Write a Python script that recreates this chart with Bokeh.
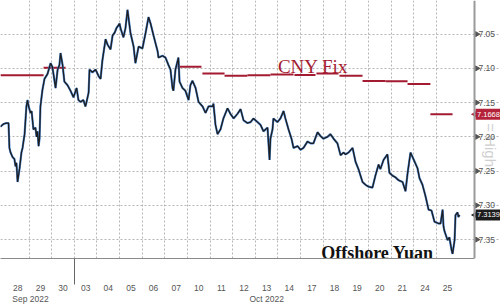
import math
from bokeh.plotting import figure
from bokeh.models import Range1d, FixedTicker, ColumnDataSource, LinearAxis, Span
from bokeh.core.properties import value
from bokeh.embed import file_html
from bokeh.resources import INLINE

# x unit = one trading session; 0 = start of 28 Sep 2022 session
day_labels = ["28", "29", "30", "03", "04", "05", "06", "07", "10", "11",
              "12", "13", "14", "17", "18", "19", "20", "21", "24", "25"]
month_labels = ["Sep 2022", "Oct 2022"]
month_label_pos = [1.06, 11.5]
month_break = [3.0]

# Offshore yuan (USD/CNH), intraday trace
cnh_x = [-0.27, -0.13, 0.00, 0.09, 0.13, 0.18, 0.27, 0.35, 0.40, 0.44, 0.49, 0.58, 0.66, 0.71, 0.80,
         0.88, 0.93, 0.97, 1.06, 1.11, 1.19, 1.28, 1.33, 1.37, 1.42, 1.46, 1.50, 1.59, 1.68, 1.81,
         1.95, 2.03, 2.17, 2.26, 2.34, 2.39, 2.48, 2.56, 2.70, 2.83, 2.96, 3.10, 3.18, 3.27, 3.40,
         3.49, 3.54, 3.63, 3.67, 3.80, 3.94, 4.07, 4.16, 4.24, 4.38, 4.47, 4.60, 4.69, 4.78, 4.86,
         5.00, 5.04, 5.17, 5.26, 5.35, 5.48, 5.62, 5.70, 5.84, 6.01, 6.15, 6.28, 6.37, 6.50, 6.68,
         6.72, 6.90, 7.03, 7.16, 7.25, 7.34, 7.38, 7.47, 7.60, 7.65, 7.78, 7.91, 8.05, 8.13, 8.22,
         8.36, 8.49, 8.67, 8.80, 8.93, 9.11, 9.15, 9.24, 9.33, 9.46, 9.59, 9.77, 9.90, 10.04, 10.21,
         10.35, 10.48, 10.65, 10.79, 10.92, 11.10, 11.23, 11.36, 11.54, 11.63, 11.67, 11.76, 11.80, 11.98, 12.11,
         12.25, 12.33, 12.47, 12.60, 12.69, 12.87, 13.00, 13.13, 13.31, 13.44, 13.57, 13.75, 13.88, 14.01, 14.19,
         14.32, 14.46, 14.63, 14.77, 14.90, 14.99, 15.12, 15.30, 15.43, 15.56, 15.74, 15.87, 16.00, 16.18, 16.31,
         16.45, 16.53, 16.67, 16.84, 16.93, 17.06, 17.20, 17.33, 17.51, 17.64, 17.73, 17.86, 17.99, 18.17, 18.26,
         18.39, 18.52, 18.66, 18.79, 18.92, 19.10, 19.19, 19.28, 19.32, 19.36, 19.50, 19.58, 19.67, 19.72, 19.81,
         19.85, 19.94, 19.98, 20.03]
cnh_y = [7.1852, 7.1812, 7.1798, 7.1798, 7.2161, 7.2229, 7.2296, 7.2323, 7.2430, 7.2377, 7.2659, 7.2457, 7.2229, 7.2161, 7.1960,
         7.1556, 7.1462, 7.1543, 7.1650, 7.1623, 7.1892, 7.1865, 7.2000, 7.1919, 7.2135, 7.2027, 7.1556, 7.1314, 7.1153, 7.1085,
         7.0924, 7.0978, 7.1287, 7.1018, 7.0951, 7.0776, 7.0951, 7.1193, 7.1247, 7.1327, 7.1422, 7.1287, 7.1462, 7.1489, 7.1462,
         7.1556, 7.1489, 7.1354, 7.1018, 7.1058, 7.1018, 7.1112, 7.1153, 7.0883, 7.0574, 7.0655, 7.0722, 7.0520, 7.0480, 7.0413,
         7.0345, 7.0413, 7.0547, 7.0413, 7.0144, 7.0480, 7.0682, 7.0924, 7.0682, 7.0709, 7.0480, 7.0251, 7.0345, 7.0520, 7.0749,
         7.0843, 7.0816, 7.0843, 7.0951, 7.1018, 7.1287, 7.1327, 7.1018, 7.0843, 7.1193, 7.1287, 7.1327, 7.1462, 7.1247, 7.1179,
         7.1287, 7.1489, 7.1556, 7.1650, 7.1556, 7.1556, 7.1516, 7.1825, 7.1960, 7.1892, 7.1731, 7.1583, 7.1664, 7.1731, 7.1664,
         7.1596, 7.1758, 7.1798, 7.1785, 7.1731, 7.1785, 7.1825, 7.1919, 7.1865, 7.2336, 7.2027, 7.1892, 7.1731, 7.1785, 7.1731,
         7.1623, 7.1731, 7.1892, 7.2027, 7.2161, 7.2135, 7.2188, 7.2161, 7.2067, 7.2094, 7.2094, 7.1933, 7.1987, 7.2027, 7.2000,
         7.1960, 7.2027, 7.2094, 7.2269, 7.2229, 7.2256, 7.2229, 7.2161, 7.2363, 7.2471, 7.2659, 7.2700, 7.2727, 7.2740, 7.2565,
         7.2404, 7.2471, 7.2336, 7.2256, 7.2525, 7.2565, 7.2592, 7.2632, 7.2659, 7.2794, 7.2538, 7.2229, 7.2323, 7.2457, 7.2605,
         7.2700, 7.2861, 7.3063, 7.3076, 7.3238, 7.3265, 7.3265, 7.3063, 7.3305, 7.3372, 7.3507, 7.3466, 7.3641, 7.3709, 7.3507,
         7.3143, 7.3103, 7.3170, 7.3139]

# CNY fixing segments
fix_start = [-0.27, 1.64, 7.56, 8.66, 9.64, 10.65, 11.67, 12.73, 13.70, 14.72, 15.74, 16.76, 17.73, 18.74]
fix_end = [1.64, 2.61, 8.62, 9.64, 10.65, 11.67, 12.69, 13.66, 14.68, 15.74, 16.76, 17.73, 18.74, 19.72]
fix_val = [7.1099, 7.0991, 7.0978, 7.1076, 7.1108, 7.1099, 7.1089, 7.1095, 7.1076, 7.1108, 7.1186, 7.1189, 7.1229, 7.1668]

y_ticks = [7.05, 7.10, 7.15, 7.20, 7.25, 7.30, 7.35]
last_fix = 7.1668
last_cnh = 7.3139
watermark = "= High"
watermark_at = 7.2120

RED = "#a31b30"
TAG_RED = "#b4213a"
TAG_DARK = "#1c1c1c"
sans = "'Liberation Sans Narrow', 'Liberation Sans', Arial, sans-serif"

# the data area ends at x_hi; the strip to its right holds the value scale and tags
x_lo, x_hi = -0.265, 20.69
px_x = (x_hi - x_lo) / 474.0
x_end = x_lo + 500 * px_x
y_top = 7.0009
px_y = 0.0013453
frame_h = 280
y_bot = y_top + frame_h * px_y

p = figure(width=500, height=306, x_range=Range1d(x_lo, x_end), y_range=Range1d(y_bot, y_top),
           output_backend="svg", toolbar_location=None, y_axis_location="right",
           min_border_left=0, min_border_top=0, min_border_right=0, min_border_bottom=306 - frame_h)
p.outline_line_color = None
p.background_fill_color = "white"
p.border_fill_color = "white"

centers = [i + 0.5 for i in range(len(day_labels))]
bounds = [i + 1 for i in range(len(day_labels) - 1)]

xa = p.xaxis[0]
xa.ticker = FixedTicker(ticks=centers, minor_ticks=month_break)
xa.major_label_overrides = {c: l for c, l in zip(centers, day_labels)}
xa.bounds = (x_lo, x_hi)
xa.major_tick_out = 0
xa.major_tick_in = 0
xa.minor_tick_out = 26
xa.minor_tick_in = 0
xa.minor_tick_line_color = "#666666"
xa.minor_tick_line_width = 1
xa.major_label_standoff = 0
xa.major_label_text_font = sans
xa.major_label_text_font_size = "8.5px"
xa.major_label_text_color = "#555555"
xa.axis_line_color = "#8a8a8a"
xa.axis_line_width = 1

month_axis = LinearAxis(ticker=FixedTicker(ticks=month_label_pos),
                        major_label_overrides={pos: lbl for pos, lbl in zip(month_label_pos, month_labels)},
                        axis_line_color=None, major_tick_line_color=None, minor_tick_line_color=None,
                        major_tick_out=0, major_tick_in=0, minor_tick_out=0, minor_tick_in=0,
                        major_label_standoff=0, major_label_text_font=sans,
                        major_label_text_font_size="8.5px", major_label_text_color="#555555")
p.add_layout(month_axis, "below")

# value scale: labels pulled back into the strip right of the data area
ya = p.yaxis[0]
ya.ticker = FixedTicker(ticks=y_ticks)
ya.major_label_overrides = {t: f"{t:.2f}" for t in y_ticks}
ya.major_tick_line_color = None
ya.minor_tick_line_color = None
ya.axis_line_color = None
ya.major_tick_out = 0
ya.major_tick_in = 0
ya.major_label_standoff = -22
ya.major_label_text_font = sans
ya.major_label_text_font_size = "8.5px"
ya.major_label_text_color = "#555555"

p.xgrid.ticker = FixedTicker(ticks=bounds)
p.xgrid.grid_line_color = "#b5b5b5"
p.xgrid.grid_line_dash = "2 2"
p.xgrid.grid_line_width = 1
p.ygrid.ticker = FixedTicker(ticks=y_ticks)
p.ygrid.bounds = (x_lo, x_hi)
p.ygrid.grid_line_color = "#b5b5b5"
p.ygrid.grid_line_dash = "2 2"
p.ygrid.grid_line_width = 1

# axis line and tick marks of the value scale
p.add_layout(Span(location=x_hi, dimension="height", line_color="#9a9a9a", line_width=2))
p.scatter(x=[x_hi + 2.5 * px_x] * len(y_ticks), y=y_ticks, marker="triangle", angle=-math.pi / 2,
          size=5, fill_color="#555555", line_color="#555555")

# CNY fix
p.segment(x0=fix_start, y0=fix_val, x1=fix_end, y1=fix_val, line_color=RED, line_width=2)

# offshore yuan
src = ColumnDataSource(dict(x=cnh_x, y=cnh_y))
p.line("x", "y", source=src, line_color="#4a86d4", line_width=2.2)
p.line("x", "y", source=src, line_color="#1e1e1e", line_width=1.3)

p.text(x=[13.55], y=[7.0975], text=["CNY Fix"], text_color=RED, text_align="center",
       text_baseline="alphabetic", text_font=value("Liberation Serif"), text_font_size="19px")
p.text(x=[16.40], y=[7.3700], text=["Offshore Yuan"], text_color="#111111", text_align="center",
       text_baseline="alphabetic", text_font=value("Liberation Serif"), text_font_size="18px",
       text_font_style="bold")

# last-value tags
tag_vals = [last_fix, last_cnh]
tag_cols = [TAG_RED, TAG_DARK]
p.rect(x=[x_hi + 13.5 * px_x] * 2, y=tag_vals, width=25, height=11, width_units="screen",
       height_units="screen", fill_color=tag_cols, line_color=None)
p.scatter(x=[x_hi + 1.0 * px_x] * 2, y=tag_vals, marker="triangle", angle=math.pi / 2, size=8,
          fill_color=tag_cols, line_color=None)
p.text(x=[x_hi + 2.5 * px_x] * 2, y=tag_vals, text=[f"{v:.4f}" for v in tag_vals], text_color="white",
       text_align="left", text_baseline="middle", text_font=value("Liberation Sans"), text_font_size="7.5px")

# faint rotated watermark
p.text(x=[x_hi + 16 * px_x], y=[watermark_at], text=[watermark], angle=-math.pi / 2, text_color="#cfcfcf",
       text_align="center", text_baseline="middle", text_font=value("Liberation Sans"), text_font_size="15px")

open("out.html", "w").write(file_html(p, INLINE))
